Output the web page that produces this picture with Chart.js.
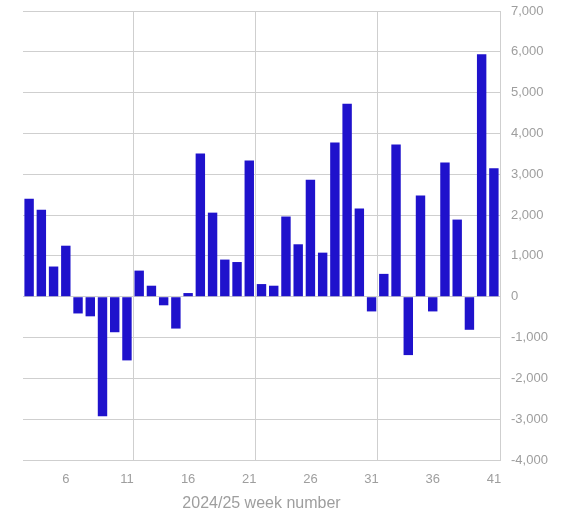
<!DOCTYPE html>
<html>
<head>
<meta charset="utf-8">
<script src="https://cdn.jsdelivr.net/npm/chart.js@4.4.1/dist/chart.umd.min.js"></script>
<style>
  html, body { margin: 0; padding: 0; background: #fff; }
  #wrap { width: 562px; height: 515px; }
</style>
</head>
<body>
<div id="wrap"><canvas id="grafico"></canvas></div>
<script>
// weeks 3..41 of 2024/25
const semanas = [3,4,5,6,7,8,9,10,11,12,13,14,15,16,17,18,19,20,21,22,23,24,25,26,27,28,29,30,31,32,33,34,35,36,37,38,39,40,41];
const valores = [2400, 2130, 740, 1250, -410, -480, -2930, -870, -1560,
                 640, 270, -210, -780, 90, 3510, 2060, 910, 850, 3340,
                 310, 270, 1965, 1285, 2865, 1080, 3780, 4730, 2160, -360,
                 560, 3730, -1430, 2480, -360, 3290, 1890, -810, 5940, 3150];
const marcasY = [-4000, -3000, -2000, -1000, 0, 1000, 2000, 3000, 4000, 5000, 6000, 7000];

const cinza = '#9e9e9e';
const linha = '#cfcfcf';

const ctx = document.getElementById('grafico').getContext('2d');

new Chart(ctx, {
    type: 'bar',
    data: {
        labels: semanas.map(String),
        datasets: [{
            data: valores,
            backgroundColor: '#1f12cc',
            borderWidth: 0,
            barPercentage: 0.77,
            categoryPercentage: 1.0
        }]
    },
    options: {
        responsive: true,
        maintainAspectRatio: false,
        animation: false,
        layout: { padding: { left: 23, top: 11, right: 0, bottom: 2 } },
        plugins: {
            legend: { display: false },
            tooltip: { enabled: false }
        },
        scales: {
            x: {
                type: 'category',
                offset: true,
                border: { display: false },
                afterFit: (s) => { s.height = 53; },
                grid: {
                    offset: true,
                    drawTicks: false,
                    lineWidth: 1,
                    color: (c) => {
                        if (c.type !== 'tick') return linha;
                        return (c.index === 9 || c.index === 19 || c.index === 29) ? linha : 'rgba(0,0,0,0)';
                    }
                },
                ticks: {
                    autoSkip: false,
                    maxRotation: 0,
                    padding: 12,
                    color: cinza,
                    font: { family: '"Liberation Sans", Arial, sans-serif', size: 13 },
                    callback: function (v, i) {
                        const w = semanas[i];
                        return (w - 1) % 5 === 0 ? String(w) : '';
                    }
                },
                title: {
                    display: true,
                    text: '2024/25 week number',
                    color: cinza,
                    padding: { top: 0, bottom: 0 },
                    font: { family: '"Liberation Sans", Arial, sans-serif', size: 16 }
                }
            },
            y: {
                position: 'right',
                min: -4000,
                max: 7000,
                afterBuildTicks: (s) => { s.ticks = marcasY.map(v => ({ value: v })); },
                afterFit: (s) => { s.width = 62; s.paddingTop = 0; s.paddingBottom = 0; },
                border: { display: true, color: linha },
                grid: { color: linha, drawTicks: false },
                ticks: {
                    padding: 11,
                    color: cinza,
                    font: { family: '"Liberation Sans", Arial, sans-serif', size: 13 },
                    callback: (v) => v.toLocaleString('en-US')
                }
            }
        }
    }
});
</script>
</body>
</html>
